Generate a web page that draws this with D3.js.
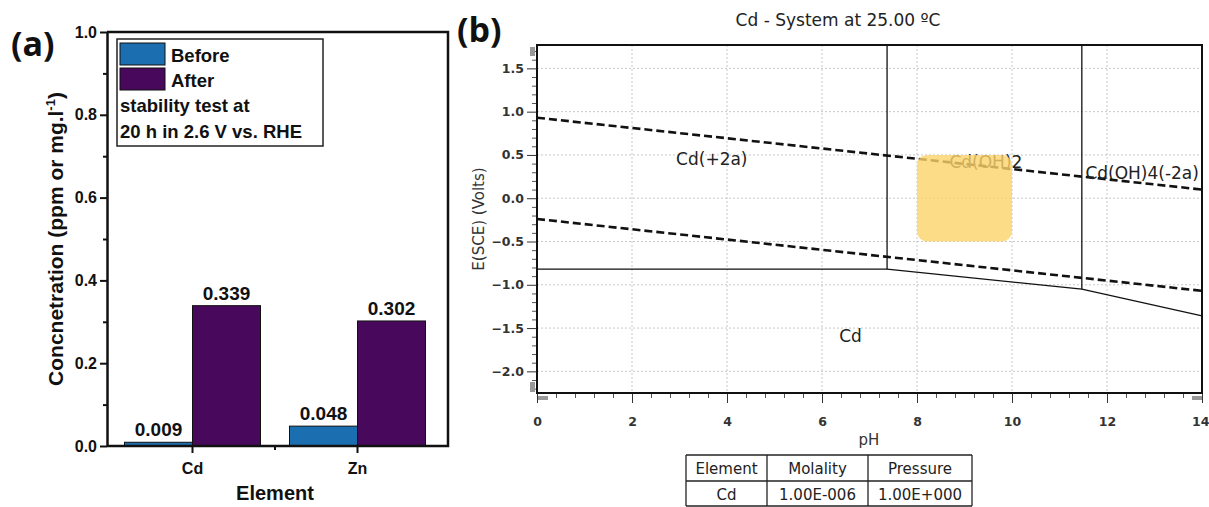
<!DOCTYPE html>
<html>
<head>
<meta charset="utf-8">
<script src="https://cdn.jsdelivr.net/npm/d3@7"></script>
<style>
  body { margin: 0; background: #fff; }
  svg { display: block; }
  .axA text { font-family: 'Liberation Sans', Arial, sans-serif; font-weight: bold; font-size: 16px; fill: #111; }
  .axB text { font-family: 'DejaVu Sans', Tahoma, sans-serif; font-weight: bold; font-size: 12.5px; fill: #333; }
</style>
</head>
<body>
<div id="chart"></div>
<script>
// ---- panel (a) data
const elements = ["Cd", "Zn"];
const seriesNames = ["Before", "After"];
const beforeValues = [0.009, 0.048];
const afterValues = [0.339, 0.302];
const concTicks = [0.0, 0.2, 0.4, 0.6, 0.8, 1.0];
const legendNote = ["stability test at", "20 h in 2.6 V vs. RHE"];

// ---- panel (b) data
const phTicks = [0, 2, 4, 6, 8, 10, 12, 14];
const eTicks = [-2.0, -1.5, -1.0, -0.5, 0.0, 0.5, 1.0, 1.5];
const waterUpper = [[0, 0.93], [14, 0.10]];
const waterLower = [[0, -0.24], [14, -1.07]];
const cdBoundary = [[0, -0.82], [7.37, -0.82], [11.47, -1.05], [14, -1.36]];
const verticalBounds = [[7.37, -0.82], [11.47, -1.05]];
const regionNames = ["Cd(+2a)", "Cd(OH)2", "Cd(OH)4(-2a)", "Cd"];
const regionPh = [3.68, 9.45, 12.74, 6.6];
const regionE = [0.38, 0.35, 0.22, -1.66];
const highlightPh = [8, 10];
const highlightE = [-0.5, 0.5];
const tableHeaders = ["Element", "Molality", "Pressure"];
const tableRow = ["Cd", "1.00E-006", "1.00E+000"];

const W = 1209, H = 507;
const svg = d3.select("#chart").append("svg").attr("width", W).attr("height", H);

const colors = { Before: "#1b6fb0", After: "#48085c" };
const fontA = "'Liberation Sans', Arial, sans-serif";
const fontB = "'DejaVu Sans', Tahoma, sans-serif";

// ================= panel (a)
const gA = svg.append("g");
const yA = d3.scaleLinear().domain([0, 1]).range([446, 32]);
const xA = d3.scaleBand().domain(elements).range([110, 440]);
const barW = 68;
const xSub = d3.scaleBand().domain(seriesNames).range([-barW, barW]);

const barData = [];
elements.forEach((el, i) => {
  barData.push({ el: el, s: "Before", v: beforeValues[i] });
  barData.push({ el: el, s: "After", v: afterValues[i] });
});

gA.selectAll(".bar")
  .data(barData)
  .join("rect")
  .attr("x", (d) => xA(d.el) + xA.bandwidth() / 2 + xSub(d.s))
  .attr("y", (d) => yA(d.v))
  .attr("width", xSub.bandwidth())
  .attr("height", (d) => yA(0) - yA(d.v))
  .attr("fill", (d) => colors[d.s])
  .attr("stroke", "#111")
  .attr("stroke-width", 1);

gA.selectAll(".val")
  .data(barData)
  .join("text")
  .attr("x", (d) => xA(d.el) + xA.bandwidth() / 2 + xSub(d.s) + xSub.bandwidth() / 2)
  .attr("y", (d) => yA(d.v) - 6)
  .attr("text-anchor", "middle")
  .style("font", `bold 19px ${fontA}`)
  .attr("fill", "#111")
  .text((d) => d3.format(".3f")(d.v));

// y axis
const yAxisA = gA.append("g").attr("class", "axA").attr("transform", "translate(107,0)")
  .call(d3.axisLeft(yA).tickValues(concTicks).tickFormat(d3.format(".1f")).tickSize(7).tickSizeOuter(0));
yAxisA.select(".domain").attr("stroke", "#111").attr("stroke-width", 2.5);
yAxisA.selectAll(".tick line").attr("stroke", "#111").attr("stroke-width", 2);
gA.append("g").attr("transform", "translate(107,0)")
  .call(d3.axisLeft(yA).tickValues([0.1, 0.3, 0.5, 0.7, 0.9]).tickFormat("").tickSize(4).tickSizeOuter(0))
  .call((g) => g.select(".domain").remove())
  .selectAll("line").attr("stroke", "#111").attr("stroke-width", 2);

// x axis
const xAxisA = gA.append("g").attr("class", "axA").attr("transform", "translate(0,446)")
  .call(d3.axisBottom(xA).tickSize(7).tickSizeOuter(0));
xAxisA.select(".domain").remove();
xAxisA.selectAll(".tick line").attr("stroke", "#111").attr("stroke-width", 2);
xAxisA.selectAll(".tick text").attr("dy", "1.1em");
gA.append("line").attr("x1", (xA("Cd") + xA("Zn") + xA.bandwidth()) / 2).attr("x2", (xA("Cd") + xA("Zn") + xA.bandwidth()) / 2)
  .attr("y1", 446).attr("y2", 450).attr("stroke", "#111").attr("stroke-width", 2);

// frame
gA.append("path").attr("d", "M107,446H448V32H107").attr("fill", "none").attr("stroke", "#111").attr("stroke-width", 2.5);

// axis titles
gA.append("text")
  .attr("transform", "translate(63,239) rotate(-90)")
  .attr("text-anchor", "middle")
  .style("font", `bold 21px ${fontA}`)
  .attr("fill", "#111")
  .html('Concnetration (ppm or mg.l<tspan dy="-8" font-size="13">-1</tspan><tspan dy="8">)</tspan>');
gA.append("text").attr("x", 275).attr("y", 500).attr("text-anchor", "middle")
  .style("font", `bold 20px ${fontA}`).attr("fill", "#111").text("Element");
gA.append("text").attr("x", 11).attr("y", 56).style("font", `bold 34px 'Open Sans', ${fontA}`).attr("fill", "#111").text("(a)");

// legend
const leg = gA.append("g");
leg.append("rect").attr("x", 117).attr("y", 39).attr("width", 206).attr("height", 107)
  .attr("fill", "#fff").attr("stroke", "#222").attr("stroke-width", 1.5);
seriesNames.forEach((s, i) => {
  leg.append("rect").attr("x", 120).attr("y", 43 + i * 25).attr("width", 45).attr("height", 22)
    .attr("fill", colors[s]).attr("stroke", "#111").attr("stroke-width", 1);
  leg.append("text").attr("x", 171).attr("y", 62 + i * 25).style("font", `bold 18.5px ${fontA}`).attr("fill", "#111").text(s);
});
legendNote.forEach((t, i) => {
  leg.append("text").attr("x", 120).attr("y", 112 + i * 26).style("font", `bold 18.5px ${fontA}`).attr("fill", "#111").text(t);
});

// ================= panel (b)
const gB = svg.append("g");
const xB = d3.scaleLinear().domain([0, 14]).range([537, 1202]);
const yB = d3.scaleLinear().domain([-2.25, 1.77]).range([393, 45]);

// grid
gB.selectAll(".vgrid").data(phTicks.slice(1, -1)).join("line")
  .attr("x1", (d) => xB(d)).attr("x2", (d) => xB(d)).attr("y1", 45).attr("y2", 393)
  .attr("stroke", "#c8c8c8").attr("stroke-dasharray", "2,2");
gB.selectAll(".hgrid").data(eTicks).join("line")
  .attr("x1", 537).attr("x2", 1202).attr("y1", (d) => yB(d)).attr("y2", (d) => yB(d))
  .attr("stroke", "#c8c8c8").attr("stroke-dasharray", "2,2");

const line = d3.line().x((d) => xB(d[0])).y((d) => yB(d[1]));

// water lines
[waterUpper, waterLower].forEach((w) => {
  gB.append("path").attr("d", line(w)).attr("fill", "none")
    .attr("stroke", "#111").attr("stroke-width", 2.6).attr("stroke-dasharray", "8,4");
});

// Cd boundaries
gB.append("path").attr("d", line(cdBoundary)).attr("fill", "none").attr("stroke", "#111").attr("stroke-width", 1.3);
verticalBounds.forEach((v) => {
  gB.append("path").attr("d", line([[v[0], 1.77], v])).attr("fill", "none").attr("stroke", "#111").attr("stroke-width", 1.3);
});

// region labels
regionNames.forEach((n, i) => {
  gB.append("text").attr("x", xB(regionPh[i])).attr("y", yB(regionE[i]))
    .attr("text-anchor", "middle").style("font", `17px ${fontB}`).attr("fill", "#222").text(n);
});

// highlight
gB.append("rect")
  .attr("x", xB(highlightPh[0])).attr("y", yB(highlightE[1]))
  .attr("width", xB(highlightPh[1]) - xB(highlightPh[0]))
  .attr("height", yB(highlightE[0]) - yB(highlightE[1]))
  .attr("rx", 10).attr("fill", "#fdd36a").attr("opacity", 0.8);

// axes
const yAxisB = gB.append("g").attr("class", "axB").attr("transform", "translate(537,0)")
  .call(d3.axisLeft(yB).tickValues(eTicks).tickFormat(d3.format(".1f")).tickSize(10).tickSizeOuter(0));
yAxisB.select(".domain").remove();
yAxisB.selectAll(".tick line").attr("stroke", "#333");
const eMinor = d3.range(-22, 18).map((d) => d / 10).filter((d) => Math.abs(d * 2 - Math.round(d * 2)) > 0.01);
gB.append("g").attr("transform", "translate(537,0)")
  .call(d3.axisLeft(yB).tickValues(eMinor).tickFormat("").tickSize(5).tickSizeOuter(0))
  .call((g) => g.select(".domain").remove())
  .selectAll("line").attr("stroke", "#555");

const xAxisB = gB.append("g").attr("class", "axB").attr("transform", "translate(0,393)")
  .call(d3.axisBottom(xB).tickValues(phTicks).tickFormat(d3.format("d")).tickSize(10).tickSizeOuter(0));
xAxisB.select(".domain").remove();
xAxisB.selectAll(".tick line").attr("stroke", "#333");
xAxisB.selectAll(".tick text").attr("dy", "1.6em");
xAxisB.selectAll(".tick text").filter((d) => d === 14).attr("text-anchor", "end").attr("dx", "0.55em");
gB.append("g").attr("transform", "translate(0,393)")
  .call(d3.axisBottom(xB).tickValues(d3.range(1, 35).map((d) => d * 0.4).filter((d) => Math.abs(d / 2 - Math.round(d / 2)) > 0.01)).tickFormat("").tickSize(5).tickSizeOuter(0))
  .call((g) => g.select(".domain").remove())
  .selectAll("line").attr("stroke", "#555");

// frame
gB.append("rect").attr("x", 537).attr("y", 45).attr("width", 665).attr("height", 348)
  .attr("fill", "none").attr("stroke", "#111").attr("stroke-width", 2);

// scroll thumbs
gB.append("rect").attr("x", 530).attr("y", 47).attr("width", 5).attr("height", 9).attr("fill", "#999");
gB.append("rect").attr("x", 530).attr("y", 382).attr("width", 5).attr("height", 10).attr("fill", "#999");
gB.append("rect").attr("x", 538).attr("y", 396).attr("width", 10).attr("height", 4).attr("fill", "#999");
gB.append("rect").attr("x", 1192).attr("y", 396).attr("width", 10).attr("height", 4).attr("fill", "#999");

// titles
gB.append("text").attr("x", 838).attr("y", 26).attr("text-anchor", "middle")
  .style("font", `17px ${fontB}`).attr("fill", "#222").text("Cd - System at 25.00 \u00baC");
gB.append("text").attr("x", 869).attr("y", 445).attr("text-anchor", "middle")
  .style("font", `15px ${fontB}`).attr("fill", "#333").text("pH");
gB.append("text").attr("transform", "translate(484,219) rotate(-90)").attr("text-anchor", "middle")
  .style("font", `15px ${fontB}`).attr("fill", "#333").text("E(SCE) (Volts)");
gB.append("text").attr("x", 457).attr("y", 42).style("font", `bold 34px 'Open Sans', ${fontA}`).attr("fill", "#111").text("(b)");

// table
const colX = [686, 767, 868, 972];
const rowY = [455, 481, 506];
const tbl = gB.append("g");
tbl.selectAll(".hl").data(rowY).join("line")
  .attr("x1", colX[0]).attr("x2", colX[3]).attr("y1", (d) => d).attr("y2", (d) => d)
  .attr("stroke", "#222").attr("stroke-width", 1.3);
tbl.selectAll(".vl").data(colX).join("line")
  .attr("x1", (d) => d).attr("x2", (d) => d).attr("y1", rowY[0]).attr("y2", rowY[2])
  .attr("stroke", "#222").attr("stroke-width", 1.3);
[tableHeaders, tableRow].forEach((row, r) => {
  row.forEach((t, c) => {
    tbl.append("text").attr("x", (colX[c] + colX[c + 1]) / 2).attr("y", rowY[r] + 19)
      .attr("text-anchor", "middle").style("font", `15px ${fontB}`).attr("fill", "#222").text(t);
  });
});
</script>
</body>
</html>
